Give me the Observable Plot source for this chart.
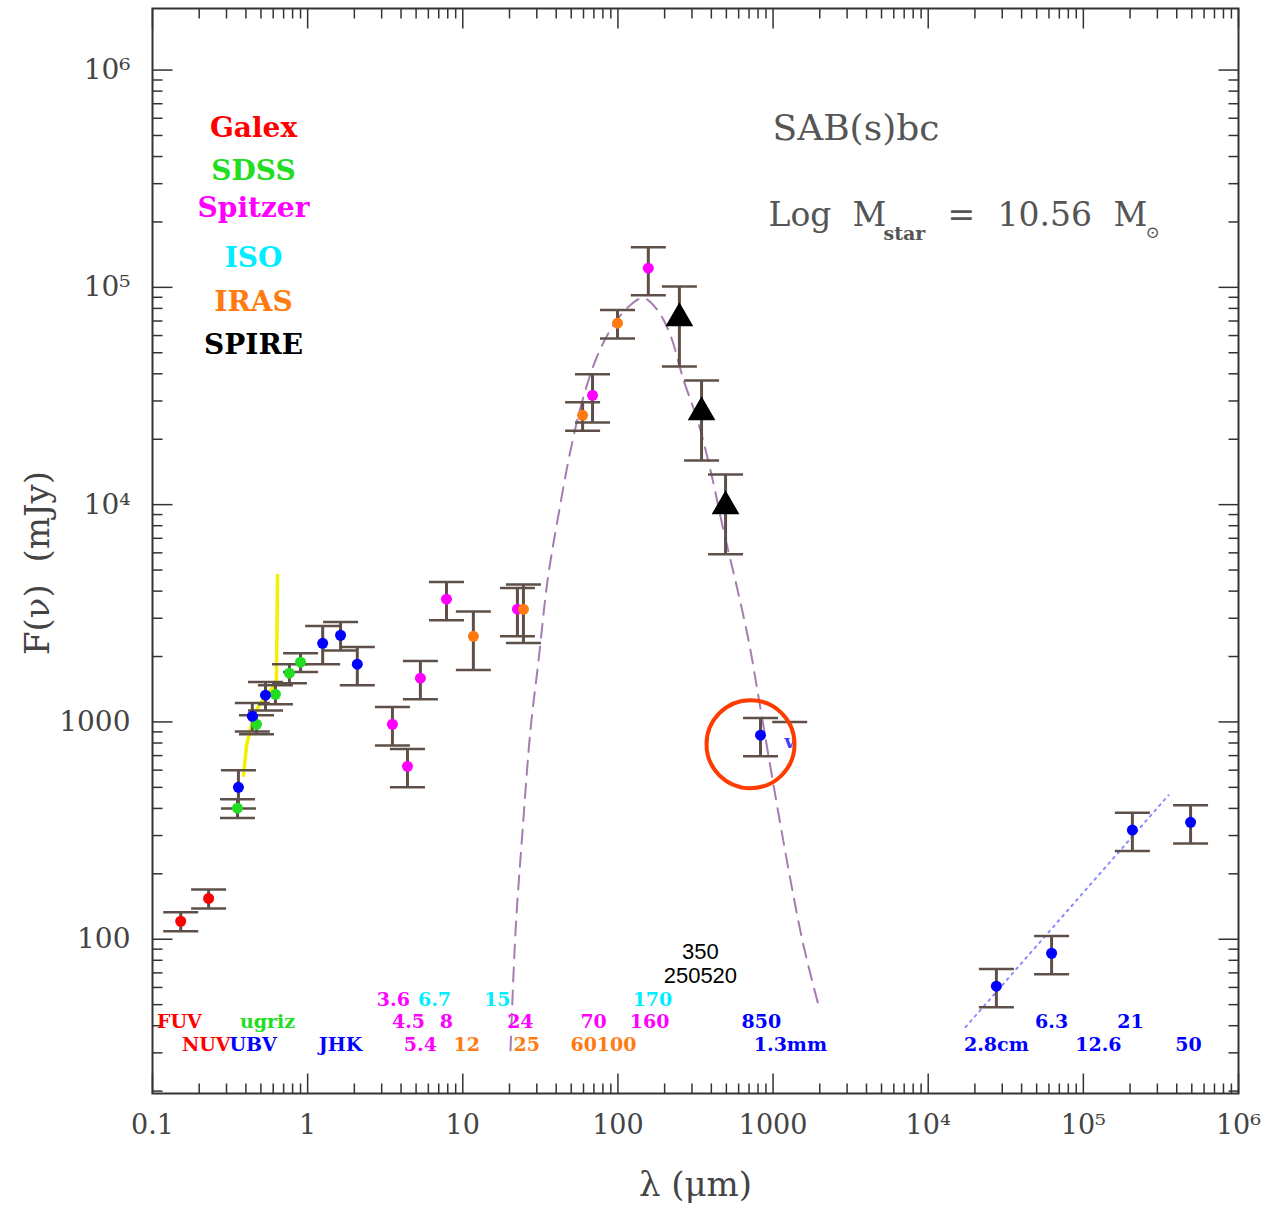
<!DOCTYPE html>
<html>
<head>
<meta charset="utf-8">
<script src="https://cdn.jsdelivr.net/npm/d3@7"></script>
<script src="https://cdn.jsdelivr.net/npm/@observablehq/plot@0.6"></script>
<style>
  body { margin: 0; background: #fff; }
</style>
</head>
<body>
<div id="chart"></div>
<script>
// Spectral energy distribution: λ in µm, Fν in mJy, err = fractional 1σ uncertainty.
const galexLam  = [0.152, 0.230];
const galexFlux = [121, 154];
const galexErr  = [0.10, 0.10];

const sdssLam  = [0.353, 0.468, 0.620, 0.763, 0.900];
const sdssFlux = [401, 975, 1340, 1676, 1884];
const sdssErr  = [0.10, 0.10, 0.10, 0.10, 0.10];

// Ground-based UBV, JHK, sub-mm and radio continuum
const groundLam  = [0.358, 0.440, 0.535, 1.25, 1.63, 2.09, 830, 27500, 62400, 207000, 491000];
const groundFlux = [500, 1062, 1328, 2301, 2506, 1844, 869, 60.8, 86.2, 318, 345];
const groundErr  = [0.20, 0.15, 0.15, 0.20, 0.15, 0.20, 0.20, 0.20, 0.20, 0.20, 0.20];

const spitzerLam  = [3.52, 4.40, 5.33, 7.85, 22.5, 68.6, 157];
const spitzerFlux = [975, 625, 1589, 3673, 3305, 31850, 122500];
const spitzerErr  = [0.20, 0.20, 0.20, 0.20, 0.25, 0.25, 0.25];

const irasLam  = [11.7, 24.6, 59.2, 99.4];
const irasFlux = [2478, 3300, 25760, 68400];
const irasErr  = [0.30, 0.30, 0.15, 0.15];

const spireLam  = [249, 346, 494];
const spireFlux = [72100, 26600, 9840];
const spireErr  = [0.40, 0.40, 0.40];

// 1.3 mm upper limit
const limitLam  = [1280];
const limitFlux = [1000];

// 850 µm measurement singled out with a ring
const highlightLam = [830];

// Optical drift-scan spectrum
const specLam  = [0.386, 0.404, 0.429, 0.461, 0.497, 0.543, 0.593, 0.629, 0.640];
const specFlux = [569, 781, 935, 1109, 1220, 1327, 1430, 1556, 4731];

// Modified black-body dust model
const mbbLam  = [20.3, 21.9, 24.3, 27.3, 30.8, 35.2, 40.8, 49.5, 59.1, 73.9, 93.6, 120, 146,
                 180, 218, 265, 326, 395, 479, 581, 695, 806, 1007, 1295, 1570, 1963];
const mbbFlux = [30.8, 110, 318, 916, 1924, 4487, 8475, 17800, 30200, 48700, 67000, 82800, 89200,
                 78500, 60200, 37400, 24400, 14400, 7620, 4256, 2377, 1300, 512, 187, 93.8, 49.6];

// Radio power-law fit
const radioFitLam  = [17400, 354000];
const radioFitFlux = [39.4, 460];

// Instruments and their colours
const instruments = ["Galex", "SDSS", "Spitzer", "ISO", "IRAS", "SPIRE", "ground"];
const instColors  = ["#ff0000", "#22dd22", "#ff00ff", "#00eeff", "#ff7a10", "#000000", "#0000ff"];
const colorOf = Object.fromEntries(instruments.map((k, i) => [k, instColors[i]]));
const legendNames = ["Galex", "SDSS", "Spitzer", "ISO", "IRAS", "SPIRE"];

// Band names along the bottom of the panel
const bandText = ["350", "250520",
  "3.6", "6.7", "15", "170",
  "FUV", "ugriz", "4.5", "8", "24", "70", "160", "850", "6.3", "21",
  "NUV", "UBV", "JHK", "5.4", "12", "25", "60100", "1.3mm", "2.8cm", "12.6", "50"];
const bandLam = [340, 340,
  3.57, 6.57, 16.7, 167,
  0.149, 0.551, 4.47, 7.85, 23.5, 69.7, 160, 841, 62400, 201000,
  0.222, 0.445, 1.63, 5.33, 10.6, 25.8, 80.7, 1294, 27500, 125000, 476000];
const bandRow = [0, 1,
  2, 2, 2, 2,
  3, 3, 3, 3, 3, 3, 3, 3, 3, 3,
  4, 4, 4, 4, 4, 4, 4, 4, 4, 4, 4];
const bandInst = ["SPIRE", "SPIRE",
  "Spitzer", "ISO", "ISO", "ISO",
  "Galex", "SDSS", "Spitzer", "Spitzer", "Spitzer", "Spitzer", "Spitzer", "ground", "ground", "ground",
  "Galex", "ground", "ground", "Spitzer", "IRAS", "IRAS", "IRAS", "ground", "ground", "ground", "ground"];

// Axis ticks
const xMajor = [0.1, 1, 10, 100, 1000, 1e4, 1e5, 1e6];
const xTickLabels = ["0.1", "1", "10", "100", "1000", "10\u2074", "10\u2075", "10\u2076"];
const yMajor = [100, 1000, 1e4, 1e5, 1e6];
const yTickLabels = ["100", "1000", "10\u2074", "10\u2075", "10\u2076"];

const morphology = "SAB(s)bc";
const massValue = "10.56";

// ---------------------------------------------------------------------------
const xDomain = [0.1, 1e6];
const yDomain = [19.5, 1.92e6];

function rows(lam, flux, err, inst) {
  return lam.map((l, i) => ({lam: l, flux: flux[i], lo: flux[i] * (1 - err[i]), hi: flux[i] * (1 + err[i]), inst}));
}
const points = [
  ...rows(galexLam, galexFlux, galexErr, "Galex"),
  ...rows(sdssLam, sdssFlux, sdssErr, "SDSS"),
  ...rows(groundLam, groundFlux, groundErr, "ground"),
  ...rows(spitzerLam, spitzerFlux, spitzerErr, "Spitzer"),
  ...rows(irasLam, irasFlux, irasErr, "IRAS")
];
const spire = rows(spireLam, spireFlux, spireErr, "SPIRE");
const allBars = [...points, ...spire];
const spectrum = specLam.map((l, i) => ({lam: l, flux: specFlux[i]}));
const model = mbbLam.map((l, i) => ({lam: l, flux: mbbFlux[i]}));
const radioFit = radioFitLam.map((l, i) => ({lam: l, flux: radioFitFlux[i]}));
const limits = limitLam.map((l, i) => ({lam: l, flux: limitFlux[i]}));
const highlighted = points.filter(d => highlightLam.includes(d.lam));
const bands = bandText.map((t, i) => ({text: t, lam: bandLam[i], row: bandRow[i], inst: bandInst[i]}));

const xMinor = [], yMinor = [];
for (let e = -1; e < 6; e++) for (let k = 2; k <= 9; k++) xMinor.push(k * 10 ** e);
for (let e = 1; e <= 6; e++) for (let k = 2; k <= 9; k++) {
  const v = k * 10 ** e;
  if (v > yDomain[0] && v < yDomain[1]) yMinor.push(v);
}

// symbols: error-bar caps and inward tick marks
const capSymbol = {draw(ctx, size) { const w = Math.sqrt(size / Math.PI); ctx.moveTo(-w, 0); ctx.lineTo(w, 0); }};
const tickSymbol = (dx, dy) => ({draw(ctx) { ctx.moveTo(0, 0); ctx.lineTo(dx, dy); }});

const barColor = "#5e5048";
const axisInk = "#333";
const labelInk = "#444";
const serif = "DejaVu Serif";

function inwardTicks(values, len, width) {
  return [
    Plot.dot(values.x, {x: d => d, frameAnchor: "bottom", symbol: tickSymbol(0, -len), stroke: axisInk, strokeWidth: width, fill: "none"}),
    Plot.dot(values.x, {x: d => d, frameAnchor: "top", symbol: tickSymbol(0, len), stroke: axisInk, strokeWidth: width, fill: "none"}),
    Plot.dot(values.y, {y: d => d, frameAnchor: "left", symbol: tickSymbol(len, 0), stroke: axisInk, strokeWidth: width, fill: "none"}),
    Plot.dot(values.y, {y: d => d, frameAnchor: "right", symbol: tickSymbol(-len, 0), stroke: axisInk, strokeWidth: width, fill: "none"})
  ];
}

const rowDy = [-142, -118, -94, -72, -49];
const rowFont = [22, 22, 19, 19, 19];
const legendDy = [120, 163, 200, 250, 294, 337];

// pieces of the stellar-mass line: [text, dx, dy, fontSize, weight]
const massPieces = [
  ["Log", 616, 207, 33, "normal"],
  ["M", 700, 207, 33, "normal"],
  ["star", 731, 225, 19, "bold"],
  ["=", 795, 207, 33, "normal"],
  [massValue, 845, 207, 33, "normal"],
  ["M", 961, 207, 33, "normal"],
  ["\u2299", 993, 224, 17, "normal"]
];

const chart = Plot.plot({
  width: 1272,
  height: 1207,
  marginTop: 8,
  marginRight: 34,
  marginBottom: 114,
  marginLeft: 152,
  x: {type: "log", domain: xDomain, axis: null},
  y: {type: "log", domain: yDomain, axis: null},
  color: {type: "identity"},
  style: {background: "white", overflow: "visible"},
  marks: [
    // ticks
    ...inwardTicks({x: xMinor, y: yMinor}, 10, 1.5),
    ...inwardTicks({x: xMajor, y: yMajor}, 20, 1.5),
    Plot.frame({stroke: axisInk, strokeWidth: 2}),

    // tick labels
    Plot.text(xMajor, {x: d => d, text: (d, i) => xTickLabels[i], frameAnchor: "bottom", dy: 32, lineAnchor: "middle",
      fontFamily: serif, fontSize: 27, fill: labelInk, ariaLabel: "tick-labels"}),
    Plot.text(yMajor, {y: d => d, text: (d, i) => yTickLabels[i], frameAnchor: "left", dx: -22, textAnchor: "end", lineAnchor: "middle",
      fontFamily: serif, fontSize: 28, fill: labelInk, ariaLabel: "tick-labels"}),

    // axis titles
    Plot.text(["\u03bb (\u03bcm)"], {frameAnchor: "bottom", dy: 92, lineAnchor: "middle", textAnchor: "middle",
      fontFamily: serif, fontSize: 34, fill: labelInk, ariaLabel: "axis-title"}),
    Plot.text(["F(\u03bd)  (mJy)"], {frameAnchor: "left", dx: -114, dy: 12, rotate: -90, lineAnchor: "middle", textAnchor: "middle",
      fontFamily: serif, fontSize: 34, fill: labelInk, ariaLabel: "axis-title-y"}),

    // optical spectrum
    Plot.line(spectrum, {x: "lam", y: "flux", stroke: "#f4f000", strokeWidth: 3.5, curve: "linear"}),

    // dust model and radio fit
    Plot.line(model, {x: "lam", y: "flux", stroke: "#a77bb2", strokeWidth: 2, strokeDasharray: "14,9", curve: "catmull-rom"}),
    Plot.line(radioFit, {x: "lam", y: "flux", stroke: "#8a8aff", strokeWidth: 2, strokeDasharray: "2,5"}),

    // error bars
    Plot.ruleX(allBars, {x: "lam", y1: "lo", y2: "hi", stroke: barColor, strokeWidth: 3}),
    Plot.dot(allBars, {x: "lam", y: "lo", symbol: capSymbol, r: 17.5, stroke: barColor, strokeWidth: 2.5, fill: "none"}),
    Plot.dot(allBars, {x: "lam", y: "hi", symbol: capSymbol, r: 17.5, stroke: barColor, strokeWidth: 2.5, fill: "none"}),
    Plot.dot(limits, {x: "lam", y: "flux", symbol: capSymbol, r: 17.5, stroke: barColor, strokeWidth: 2.5, fill: "none"}),
    Plot.text(limits, {x: "lam", y: "flux", text: () => "v", dy: 20, fill: "#3b3bff", fontFamily: serif, fontSize: 18, fontWeight: "bold"}),

    // photometry
    Plot.dot(points, {x: "lam", y: "flux", r: 5.5, fill: d => colorOf[d.inst], stroke: "none"}),
    Plot.dot(spire, {x: "lam", y: "flux", symbol: "triangle", r: 10.3, fill: "#000", stroke: "none"}),

    // ring round the 850 µm measurement
    Plot.dot(highlighted, {x: "lam", y: "flux", dx: -10, dy: 9, r: 44, stroke: "#ff3c00", strokeWidth: 4, fill: "none"}),

    // band names
    ...rowDy.map((dy, r) => Plot.text(bands.filter(d => d.row === r), {
      x: "lam", text: "text", fill: d => colorOf[d.inst], frameAnchor: "bottom", dy, lineAnchor: "middle",
      fontFamily: r < 2 ? "Liberation Sans" : serif, fontWeight: r < 2 ? "normal" : "bold", fontSize: rowFont[r],
      ariaLabel: "band-row"
    })),

    // instrument legend
    ...legendNames.map((name, i) => Plot.text([name], {frameAnchor: "top-left", dx: 101, dy: legendDy[i],
      textAnchor: "middle", lineAnchor: "middle",
      fill: colorOf[name], fontFamily: serif, fontWeight: "bold", fontSize: 28})),

    // galaxy properties
    Plot.text([morphology], {frameAnchor: "top-left", dx: 620, dy: 120, textAnchor: "start", lineAnchor: "middle",
      fontFamily: serif, fontSize: 36, fill: "#555"}),
    ...massPieces.map(([t, dx, dy, size, weight]) => Plot.text([t], {frameAnchor: "top-left", dx, dy,
      textAnchor: "start", lineAnchor: "middle", fontFamily: serif, fontSize: size, fontWeight: weight, fill: "#555"}))
  ]
});

const svg = d3.select(chart);
svg.selectAll('g[aria-label="tick-labels"]').attr("letter-spacing", "1.5px");
svg.selectAll('g[aria-label="axis-title"]').attr("letter-spacing", "3px");
svg.selectAll('g[aria-label="axis-title-y"]').attr("letter-spacing", "5px");
const bandTexts = svg.selectAll('g[aria-label="band-row"] text');
bandTexts.filter(function () { return this.textContent === "ugriz"; }).attr("letter-spacing", "3.5px");
bandTexts.filter(function () { return /\d/.test(this.textContent); }).attr("letter-spacing", "1.5px");

document.getElementById("chart").appendChild(chart);
</script>
</body>
</html>
